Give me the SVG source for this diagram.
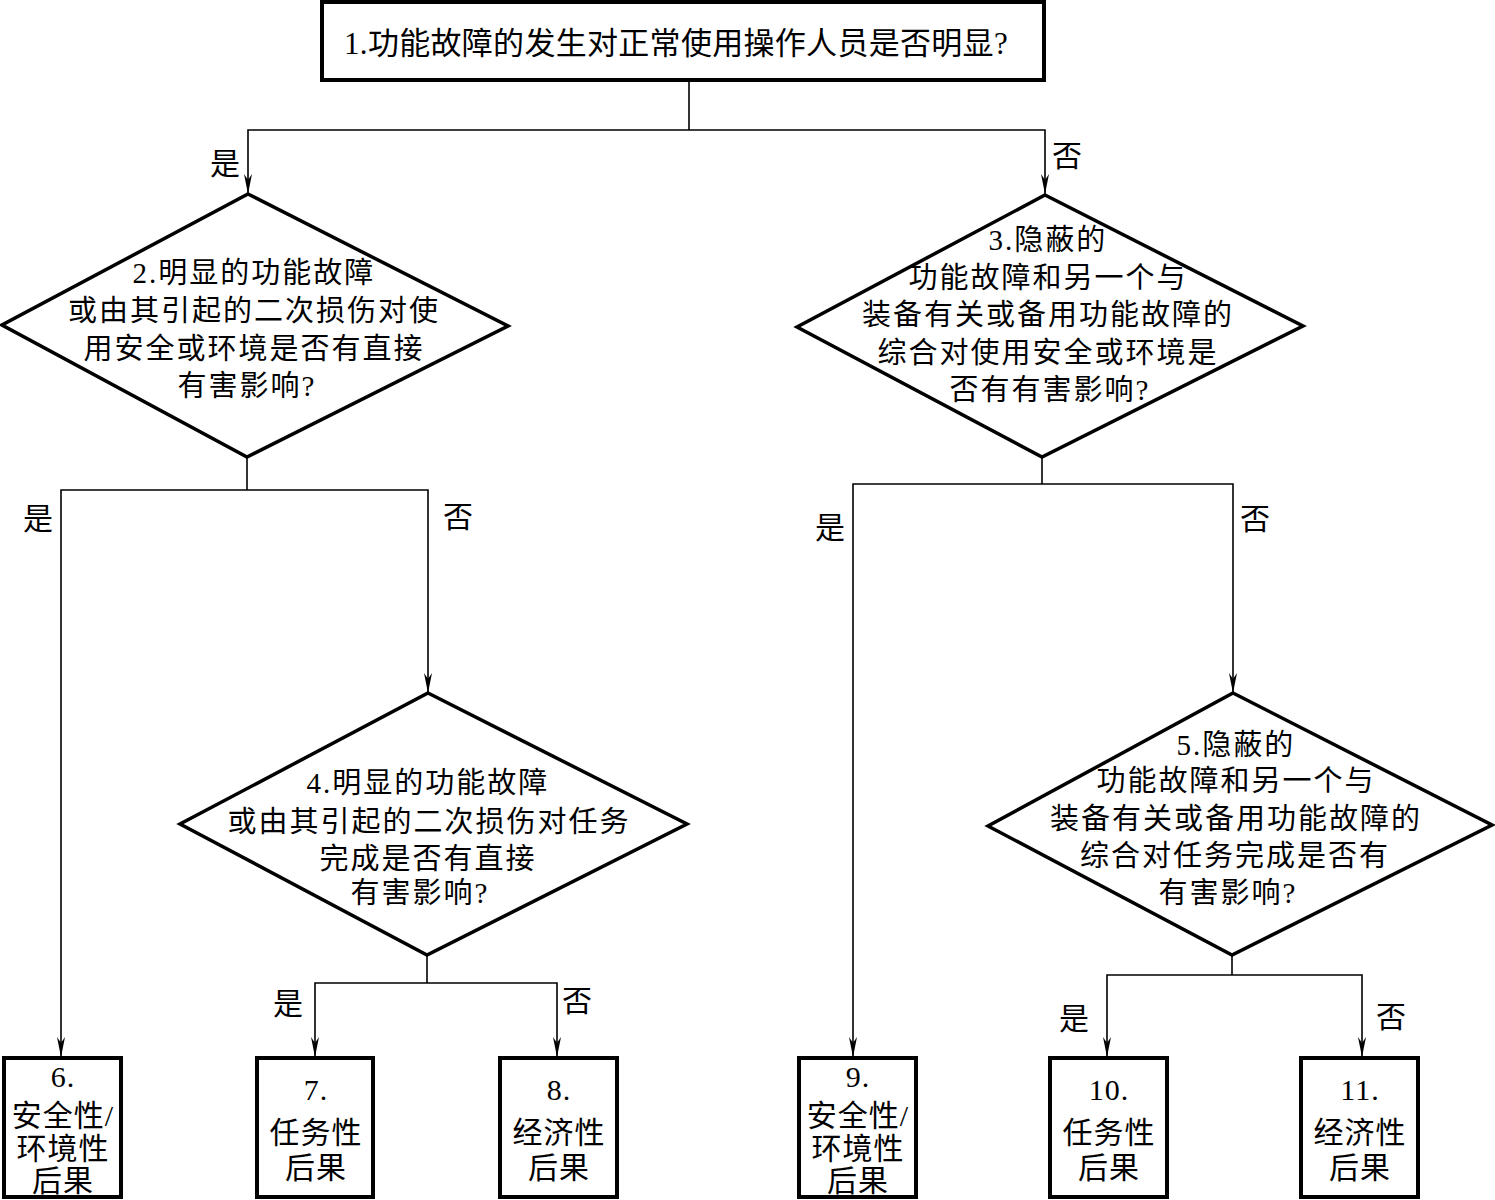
<svg xmlns="http://www.w3.org/2000/svg" width="1495" height="1200" viewBox="0 0 1495 1200">
<style>
.bg{fill:#fff}
.box{fill:#fff;stroke:#000;stroke-width:4}
.dia{fill:#fff;stroke:#000;stroke-width:3.5;stroke-linejoin:miter}
.ln{fill:none;stroke:#000;stroke-width:1.6}
.t{font-family:"Liberation Serif","Noto Sans CJK SC",serif;fill:#000;text-anchor:middle}
.top{font-size:31px;letter-spacing:0.3px}
.d{font-size:29px;letter-spacing:2px}
.b{font-size:30px;letter-spacing:1px}
.lab{font-size:30px}
</style>
<defs>
<marker id="arr" viewBox="-20 -5 21 10" refX="0" refY="0" markerWidth="21" markerHeight="10" markerUnits="userSpaceOnUse" orient="auto-start-reverse">
<path d="M0,0 L-20,-4 L-14,0 L-20,4 Z" fill="#000"/>
</marker>
</defs>
<rect class="bg" x="0" y="0" width="1495" height="1200"/>

<g id="connectors">
<polyline class="ln" points="689,80 689,130"/>
<polyline class="ln" points="248,194 248,130 1045,130 1045,194" marker-start="url(#arr)" marker-end="url(#arr)"/>
<polyline class="ln" points="247,457 247,490"/>
<polyline class="ln" points="61,1057 61,490 428,490 428,693" marker-start="url(#arr)" marker-end="url(#arr)"/>
<polyline class="ln" points="1042,457 1042,484"/>
<polyline class="ln" points="853,1057 853,484 1233,484 1233,693" marker-start="url(#arr)" marker-end="url(#arr)"/>
<polyline class="ln" points="427,955 427,983"/>
<polyline class="ln" points="315,1057 315,983 557,983 557,1057" marker-start="url(#arr)" marker-end="url(#arr)"/>
<polyline class="ln" points="1232,955 1232,975"/>
<polyline class="ln" points="1107,1057 1107,975 1362,975 1362,1057" marker-start="url(#arr)" marker-end="url(#arr)"/>
<text class="t lab" x="225" y="174">是</text>
<text class="t lab" x="1067" y="166">否</text>
<text class="t lab" x="38" y="529">是</text>
<text class="t lab" x="458" y="527">否</text>
<text class="t lab" x="830" y="538">是</text>
<text class="t lab" x="1255" y="529">否</text>
<text class="t lab" x="288" y="1014">是</text>
<text class="t lab" x="577" y="1011">否</text>
<text class="t lab" x="1074" y="1029">是</text>
<text class="t lab" x="1391" y="1027">否</text>
</g>

<g id="node1">
<rect class="box" x="322" y="2" width="722" height="78"/>
<text class="t top" x="676" y="54">1.功能故障的发生对正常使用操作人员是否明显?</text>
</g>

<g id="node2">
<polygon class="dia" points="248,194 508,326 247,457 2,325"/>
<text class="t d" x="254" y="283">2.明显的功能故障</text>
<text class="t d" x="254" y="321">或由其引起的二次损伤对使</text>
<text class="t d" x="254" y="359">用安全或环境是否有直接</text>
<text class="t d" x="247" y="396">有害影响?</text>
</g>

<g id="node3">
<polygon class="dia" points="1045,195 1303,326 1042,457 797,327"/>
<text class="t d" x="1048" y="250">3.隐蔽的</text>
<text class="t d" x="1048" y="288">功能故障和另一个与</text>
<text class="t d" x="1048" y="325">装备有关或备用功能故障的</text>
<text class="t d" x="1048" y="363">综合对使用安全或环境是</text>
<text class="t d" x="1050" y="400">否有有害影响?</text>
</g>

<g id="node4">
<polygon class="dia" points="428,693 687,824 427,955 180,824"/>
<text class="t d" x="428" y="793">4.明显的功能故障</text>
<text class="t d" x="429" y="832">或由其引起的二次损伤对任务</text>
<text class="t d" x="428" y="869">完成是否有直接</text>
<text class="t d" x="420" y="903">有害影响?</text>
</g>

<g id="node5">
<polygon class="dia" points="1233,693 1492,825 1232,955 988,826"/>
<text class="t d" x="1236" y="755">5.隐蔽的</text>
<text class="t d" x="1236" y="791">功能故障和另一个与</text>
<text class="t d" x="1236" y="829">装备有关或备用功能故障的</text>
<text class="t d" x="1235" y="866">综合对任务完成是否有</text>
<text class="t d" x="1228" y="903">有害影响?</text>
</g>

<g id="node6">
<rect class="box" x="4" y="1058" width="117" height="139"/>
<text class="t b" x="63" y="1087">6.</text>
<text class="t b" x="63" y="1126">安全性/</text>
<text class="t b" x="63" y="1159">环境性</text>
<text class="t b" x="63" y="1191">后果</text>
</g>

<g id="node7">
<rect class="box" x="257" y="1058" width="116" height="139"/>
<text class="t b" x="316" y="1100">7.</text>
<text class="t b" x="316" y="1143">任务性</text>
<text class="t b" x="316" y="1178">后果</text>
</g>

<g id="node8">
<rect class="box" x="500" y="1058" width="117" height="139"/>
<text class="t b" x="559" y="1100">8.</text>
<text class="t b" x="559" y="1143">经济性</text>
<text class="t b" x="559" y="1178">后果</text>
</g>

<g id="node9">
<rect class="box" x="799" y="1058" width="117" height="139"/>
<text class="t b" x="858" y="1087">9.</text>
<text class="t b" x="858" y="1126">安全性/</text>
<text class="t b" x="858" y="1159">环境性</text>
<text class="t b" x="858" y="1191">后果</text>
</g>

<g id="node10">
<rect class="box" x="1050" y="1058" width="117" height="139"/>
<text class="t b" x="1109" y="1100">10.</text>
<text class="t b" x="1109" y="1143">任务性</text>
<text class="t b" x="1109" y="1178">后果</text>
</g>

<g id="node11">
<rect class="box" x="1301" y="1058" width="117" height="139"/>
<text class="t b" x="1360" y="1100">11.</text>
<text class="t b" x="1360" y="1143">经济性</text>
<text class="t b" x="1360" y="1178">后果</text>
</g>
</svg>
